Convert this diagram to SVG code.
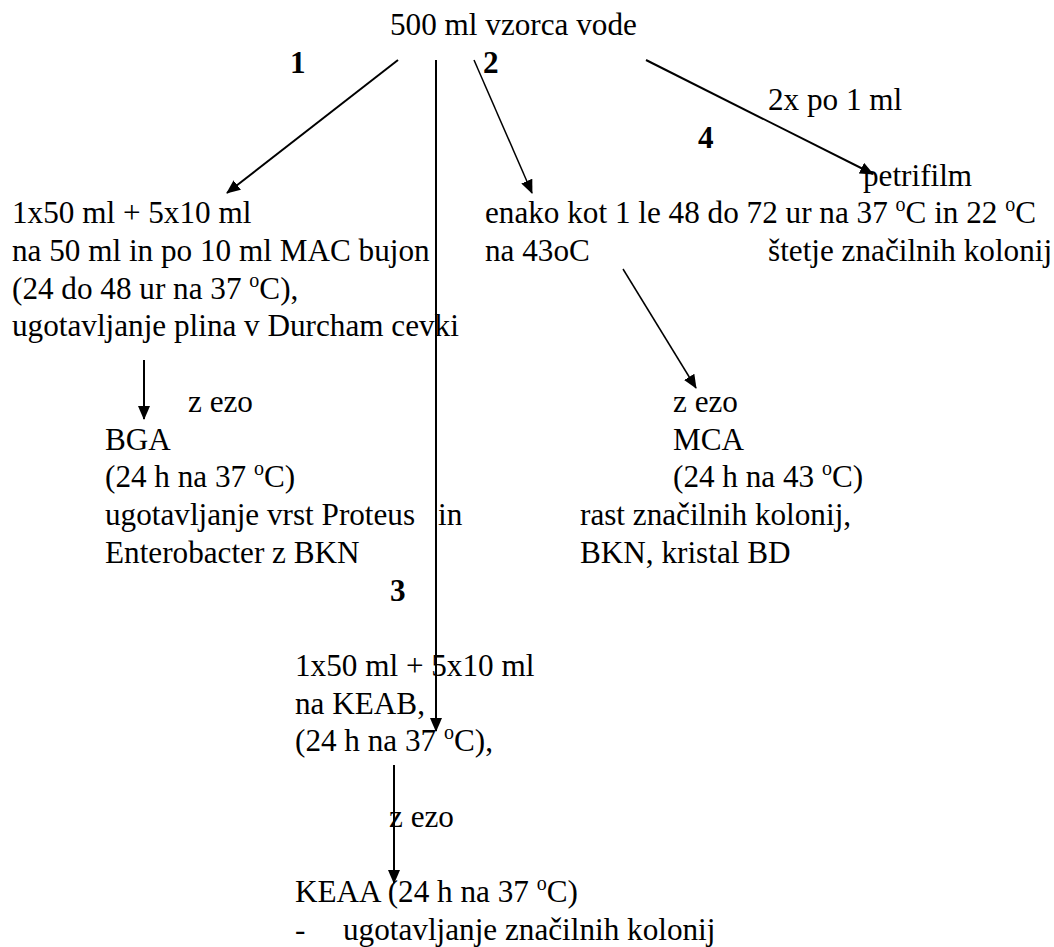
<svg xmlns="http://www.w3.org/2000/svg" width="1054" height="947" viewBox="0 0 1054 947">
<style>
text{font-family:"Liberation Serif","Times New Roman",serif;font-size:31.2px;fill:#000}
.b{font-weight:bold}
.sup{font-size:20px}
.c{stroke:#000;stroke-width:2;fill:none}
.t{stroke:#000;stroke-width:1.5;fill:none}
</style>
<defs>
<marker id="ah" markerUnits="userSpaceOnUse" markerWidth="14" markerHeight="12" refX="13" refY="6" orient="auto"><path d="M0,0 L14,6 L0,12 Z" fill="#000"/></marker>
</defs>
<rect width="1054" height="947" fill="#fff"/>
<g id="connectors">
<line class="c" x1="398" y1="60" x2="227" y2="193" marker-end="url(#ah)"/>
<line class="c" x1="436" y1="60" x2="436" y2="731" marker-end="url(#ah)"/>
<line class="t" x1="474" y1="60" x2="532" y2="193" marker-end="url(#ah)"/>
<line class="c" x1="646" y1="60" x2="873" y2="174" marker-end="url(#ah)"/>
<line class="t" x1="623" y1="269" x2="696" y2="388" marker-end="url(#ah)"/>
<line class="c" x1="144" y1="360" x2="144" y2="419" marker-end="url(#ah)"/>
<line class="c" x1="394" y1="765" x2="394" y2="883" marker-end="url(#ah)"/>
</g>
<g id="sample"><text x="390" y="35">500 ml vzorca vode</text></g>
<g id="labels">
<text class="b" x="290" y="73">1</text>
<text class="b" x="483" y="73">2</text>
<text class="b" x="698" y="148">4</text>
<text class="b" x="390" y="601">3</text>
<text x="768" y="110">2x po 1 ml</text>
</g>
<g id="petrifilm"><text x="863" y="186">petrifilm</text>
<text x="768" y="261">štetje značilnih kolonij</text></g>
<g id="mac">
<text x="12" y="223">1x50 ml + 5x10 ml</text>
<text x="12" y="261">na 50 ml in po 10 ml MAC bujon</text>
<text x="12" y="299">(24 do 48 ur na 37 <tspan class="sup" dy="-12">o</tspan><tspan dy="12">C),</tspan></text>
<text x="12" y="336">ugotavljanje plina v Durcham cevki</text>
</g>
<g id="enako">
<text x="485" y="223">enako kot 1 le 48 do 72 ur na 37 <tspan class="sup" dy="-12">o</tspan><tspan dy="12">C in 22 </tspan><tspan class="sup" dy="-12">o</tspan><tspan dy="12">C</tspan></text>
<text x="485" y="261">na 43oC</text>
</g>
<g id="bga">
<text x="188" y="412">z ezo</text>
<text x="105" y="450">BGA</text>
<text x="105" y="487">(24 h na 37 <tspan class="sup" dy="-12">o</tspan><tspan dy="12">C)</tspan></text>
<text x="105" y="525">ugotavljanje vrst Proteus <tspan x="438">in</tspan></text>
<text x="105" y="563">Enterobacter z BKN</text>
</g>
<g id="mca">
<text x="673" y="412">z ezo</text>
<text x="673" y="450">MCA</text>
<text x="673" y="487">(24 h na 43 <tspan class="sup" dy="-12">o</tspan><tspan dy="12">C)</tspan></text>
<text x="580" y="525">rast značilnih kolonij,</text>
<text x="580" y="563">BKN, kristal BD</text>
</g>
<g id="keab">
<text x="295" y="676">1x50 ml + 5x10 ml</text>
<text x="295" y="714">na KEAB,</text>
<text x="295" y="751">(24 h na 37 <tspan class="sup" dy="-12">o</tspan><tspan dy="12">C),</tspan></text>
</g>
<g id="keaa">
<text x="389" y="827">z ezo</text>
<text x="295" y="902">KEAA (24 h na 37 <tspan class="sup" dy="-12">o</tspan><tspan dy="12">C)</tspan></text>
<text x="295" y="940">-</text>
<text x="343" y="940">ugotavljanje značilnih kolonij</text>
</g>
</svg>
